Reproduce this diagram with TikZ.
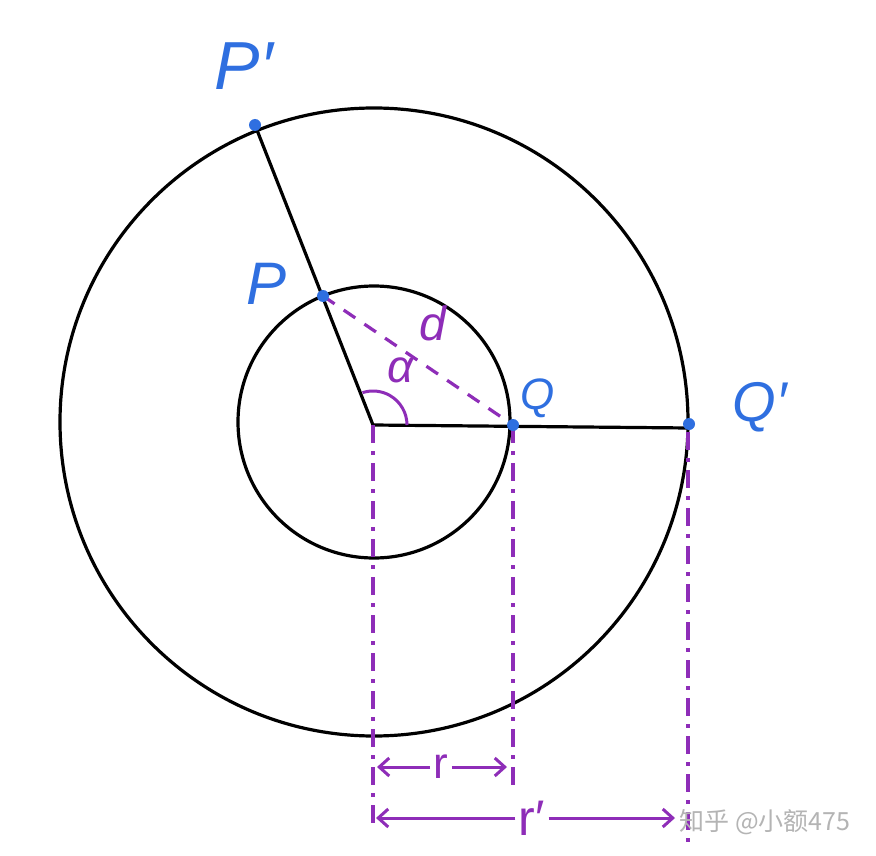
\documentclass[tikz,border=0pt]{standalone}
\usepackage{fontspec}
\setmainfont{Liberation Sans}
\newfontfamily\cjk{Noto Sans CJK SC}
\usetikzlibrary{arrows.meta}
\definecolor{penblue}{HTML}{2F6FE0}
\definecolor{penpurple}{HTML}{8E2DB8}
\definecolor{wmgray}{HTML}{B4B4B4}
\begin{document}
\begin{tikzpicture}[x=1pt,y=-1pt,
  circ/.style={draw=black,line width=3.2pt},
  seg/.style={draw=black,line width=3.2pt},
  dotpt/.style={circle,fill=penblue,inner sep=0pt,minimum size=12pt},
  bluelab/.style={text=penblue,font=\itshape},
  purplab/.style={text=penpurple,font=\itshape},
  dashdot/.style={draw=penpurple,line width=3.4pt,dash pattern=on 18pt off 8pt on 4pt off 8pt},
  dimarrow/.style={draw=penpurple,line width=3pt,-{Straight Barb[length=10pt,width=18pt]}},
  ]
\useasboundingbox (0,0) rectangle (876,856);
\fill[white] (0,0) rectangle (876,856);
% centre and points
\coordinate (O) at (373,425);
\coordinate (Pp) at (255,125);
\coordinate (P) at (323,296);
\coordinate (Q) at (513,425);
\coordinate (Qp) at (689,424);
\coordinate (Qend) at (689,428);
\draw[circ] (374,422) circle[radius=314];
\draw[circ] (374,422) circle[radius=136];
% radii
\draw[seg] (O) -- (Pp);
\draw[seg] (O) -- (Qend);
% angle arc
\draw[draw=penpurple,line width=3pt] (407,425) arc[start angle=0,end angle=-108,radius=34];
% chord d
\draw[draw=penpurple,line width=3.2pt,dash pattern=on 14pt off 11pt] (P) -- (Q);
% vertical projection lines
\coordinate (Ob) at (373,830);
\coordinate (Qb) at (513,785);
\coordinate (Qpt) at (688,432);
\coordinate (Qpb) at (688,846);
\draw[dashdot] (O) -- (Ob);
\draw[dashdot] (Q) -- (Qb);
\draw[dashdot] (Qpt) -- (Qpb);
% dots on top
\node[dotpt] (dPp) at (Pp) {};
\node[dotpt] (dP) at (P) {};
\node[dotpt] (dQ) at (Q) {};
\node[dotpt] (dQp) at (Qp) {};
% labels
\node[bluelab,font=\itshape\fontsize{68}{68}\selectfont] (lPp) at (244,66) {P′};
\node[bluelab,font=\itshape\fontsize{60}{60}\selectfont] (lP) at (267,284) {P};
\node[bluelab,font=\itshape\fontsize{44}{44}\selectfont] (lQ) at (538,398) {Q};
\node[bluelab,font=\itshape\fontsize{56}{56}\selectfont] (lQp) at (760,407) {Q′};
\node[purplab,font=\itshape\fontsize{46}{46}\selectfont] (lal) at (401,370) {α};
\node[purplab,font=\itshape\fontsize{48}{48}\selectfont] (ld) at (433,323) {d};
% dimension r
\node[purplab,font=\fontsize{44}{44}\selectfont] (lr) at (441,767) {r};
\coordinate (rL) at (377,767);
\coordinate (rR) at (507,767);
\draw[dimarrow] (lr.west) -- (rL);
\draw[dimarrow] (lr.east) -- (rR);
% dimension r'
\node[purplab,font=\fontsize{50}{50}\selectfont] (lrp) at (532,818) {r′};
\coordinate (rpL) at (376,818);
\coordinate (rpR) at (675,818);
\draw[dimarrow] (lrp.west) -- (rpL);
\draw[dimarrow] (lrp.east) -- (rpR);
% watermark
\node[text=wmgray,font=\cjk\fontsize{25}{25}\selectfont,anchor=west] (wm) at (676,822) {知乎 @小额475};
\end{tikzpicture}
\end{document}
